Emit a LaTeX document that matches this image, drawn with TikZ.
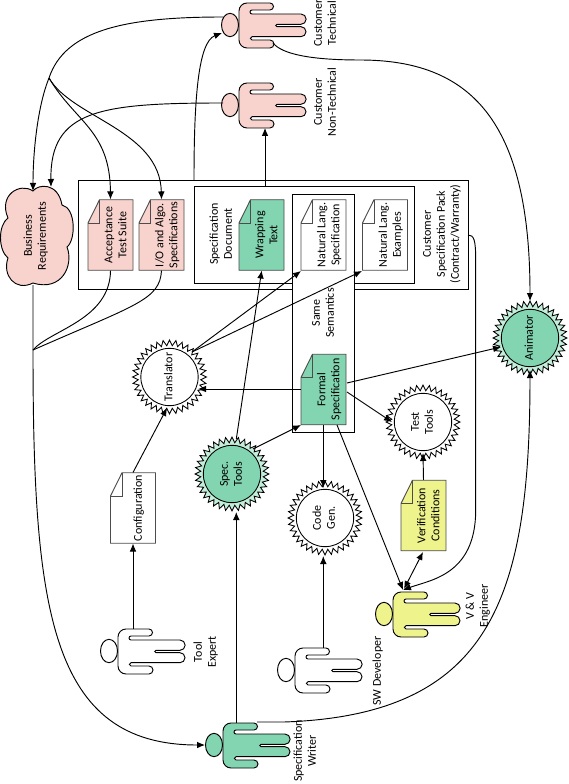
\documentclass[tikz,border=0pt]{standalone}
\usepackage{fontspec}
\setmainfont{Carlito}
\usepackage{graphicx}
\usetikzlibrary{arrows.meta,shapes.geometric,calc}
\definecolor{pinkf}{HTML}{F8D3CE}
\definecolor{greenf}{HTML}{82D5B0}
\definecolor{greenl}{HTML}{C4EEDC}
\definecolor{yellowf}{HTML}{EFF38C}
\newcommand{\rt}[1]{\rotatebox{90}{\begin{tabular}{@{}c@{}}#1\end{tabular}}}
\newcommand{\mydoc}[5]{%
  \begin{scope}[shift={(#2,#3)}]
    \draw[docline,fill=#4] (-11,-35.25)--(22.5,-35.25)--(22.5,35.25)--(-22.5,35.25)--(-22.5,-12)--cycle;
    \draw[docline] (-11,-35.25)--(-11,-12)--(-22.5,-12);
  \end{scope}
  \node[docnode] (#1) at (#2,#3) {\hspace*{9pt}\rt{#5}};}
\newcommand{\mygear}[6]{%
  \node[geardraw,fill=#4] (#1) at (#2,#3) {};
  \node[gearcirc,fill=#5] (#1-c) at (#2,#3) {\rt{#6}};}
\tikzset{
  conn/.style={draw=black,line width=0.7pt},
  arr/.style={conn,-{Latex[length=6pt,width=5pt]}},
  arrb/.style={conn,{Latex[length=6pt,width=5pt]}-{Latex[length=6pt,width=5pt]}},
  docline/.style={draw=black!70,line width=0.7pt},
  docnode/.style={inner sep=0pt,minimum width=33.75pt,minimum height=52.9pt},
  geardraw/.style={draw=black,line width=0.65pt,star,star points=36,star point ratio=1.18,minimum size=55.5pt,inner sep=0pt},
  gearcirc/.style={draw=black,line width=0.65pt,circle,minimum size=43pt,inner sep=0pt},
  boxn/.style={draw=black,line width=0.7pt,fill=white,inner sep=0pt},
  lab/.style={inner sep=0pt},
  pics/person/.style={code={
    \draw[draw=black,line width=0.7pt,fill=#1]
      (9,-14) arc (180:270:8) -- (40,-22) arc (270:450:3.5) -- (22,-15)
      arc (270:90:2) -- (71,-11) arc (270:450:5.15) -- (47,-0.7)
      arc (270:90:1.2) -- (71,1.7) arc (270:450:5) -- (22,11.7)
      arc (270:90:1.65) -- (40,15) arc (270:450:4) -- (17,23)
      arc (90:180:8) -- cycle;
    \node[ellipse,draw=black,line width=0.7pt,fill=#1,minimum width=12.75pt,minimum height=17.5pt,inner sep=0pt] (-head) at (0,0) {};
    \coordinate (-armt) at (24,-22);
    \coordinate (-armb) at (35,23);
  }}
}
\begin{document}
\begin{tikzpicture}[x=0.75pt,y=-0.75pt,font=\fontsize{9}{10.5}\selectfont]
\useasboundingbox (0,0) rectangle (568,784);
% cloud
\draw[conn,fill=pinkf]
  (33,191) .. controls (38,184) and (58,182) .. (62,205)
  .. controls (76,208) and (76,240) .. (67,247)
  .. controls (74,265) and (62,292) .. (33,283)
  .. controls (15,292) and (2,275) .. (8,258)
  .. controls (-2,250) and (-2,225) .. (8,218)
  .. controls (-2,195) and (20,182) .. (33,191) -- cycle;
\node[lab] (br) at (36,236) {\rt{Business\\Requirements}};
\coordinate (brA) at (33,191);
\coordinate (brB) at (51,187);
\coordinate (brC) at (33,285);
% boxes
\node[boxn,minimum width=292.5pt,minimum height=81.75pt] (pack) at (273,234.5) {};
\node[boxn,minimum width=165pt,minimum height=72.75pt] (sd) at (304,234.5) {};
\node[boxn,minimum width=46.5pt,minimum height=178.5pt] (ss) at (323,313) {};
\node[lab] (packl) at (442,234) {\rt{Customer\\Specification Pack\\(Contract/Warranty)}};
\node[lab] (sdl) at (222,234) {\rt{Specification\\Document}};
\node[lab] (ssl) at (324,313) {\rt{Same\\Semantics}};
% documents
\mydoc{acc}{110.5}{235}{pinkf}{Acceptance\\Test Suite}
\mydoc{io}{161.5}{235}{pinkf}{I/O and Algo.\\Specifications}
\mydoc{wrap}{261.5}{235}{greenf}{Wrapping\\Text}
\mydoc{nls}{323.5}{235}{white}{Natural Lang.\\Specification}
\mydoc{nle}{385}{235}{white}{Natural Lang.\\Examples}
\mydoc{formal}{323.5}{389.5}{greenf}{Formal\\Specification}
\mydoc{config}{133}{508}{white}{Configuration}
\mydoc{verif}{423.5}{515.5}{yellowf}{Verification\\Conditions}
% tools
\mygear{anim}{530}{338}{greenl}{greenf}{Animator}
\mygear{trans}{169.5}{377}{white}{white}{Translator}
\mygear{spect}{232}{474}{greenl}{greenf}{Spec.\\Tools}
\mygear{testt}{423}{422}{white}{white}{Test\\Tools}
\mygear{cgen}{325}{518}{white}{white}{Code\\Gen.}
% people
\pic (ct) at (230,25) {person=pinkf};
\pic (nt) at (230,105) {person=pinkf};
\pic (te) at (109,651) {person=white};
\pic (sw) at (286,670) {person=white};
\pic (sp) at (214,745) {person=greenf};
\pic (vv) at (384,614) {person=yellowf};
\node[lab] (ctl) at (326,23) {\rt{Customer\\Technical}};
\node[lab] (ntl) at (326,102) {\rt{Customer\\Non-Technical}};
\node[lab] (tel) at (206,652) {\rt{Tool\\Expert}};
\node[lab] (swl) at (378,671) {\rt{SW Developer}};
\node[lab] (spl) at (306,751) {\rt{Specification\\Writer}};
\node[lab] (vvl) at (478,606) {\rt{V \& V\\Engineer}};
% junctions and free ends
\coordinate (j1) at (49,78);
\coordinate (j2) at (33,350);
\coordinate (ctL) at (223,17);
\coordinate (ctH) at (222,33);
\coordinate (ntL) at (223,103);
\coordinate (ctB) at (273,43);
\coordinate (spH) at (205,745);
\coordinate (spA) at (257,722);
\coordinate (packT) at (194,180);
\coordinate (packR) at (468,235);
\coordinate (vvT) at (403,590);
\coordinate (vvV) at (404,589);
\coordinate (trOut) at (192,352);
\coordinate (nlsC) at (301,271);
\coordinate (nleC) at (362,271);
\coordinate (ssC) at (301,425);
\coordinate (stA) at (236.3,439);
\coordinate (stB) at (253,449);
\coordinate (wrapB) at (261.7,270.5);
\coordinate (fL) at (301,389);
\coordinate (trR) at (198,389);
\coordinate (fR1) at (347,383);
\coordinate (anL) at (501,347);
\coordinate (fR2) at (347,392);
\coordinate (ttL) at (392,422);
\coordinate (fB1) at (323.3,425);
\coordinate (cgT) at (323.3,488);
\coordinate (fB2) at (337,425);
\coordinate (verL) at (423,552);
\coordinate (trB) at (167,408);
\coordinate (ttB) at (423,453);
\coordinate (anT) at (530,301);
\coordinate (anB) at (530,370);
% connectors
\draw[arr] (ctL) .. controls (125,17) and (65,30) .. (j1) .. controls (38,105) and (33,150) .. (brA);
\draw[arr] (j1) .. controls (75,122) and (110,130) .. (acc.north);
\draw[arr] (j1) .. controls (72,118) and (160,130) .. (io.north);
\draw[arr] (ntL) .. controls (100,103) and (50,110) .. (brB);
\draw[arr] (sd.north -| nt-armb) -- (nt-armb);
\draw[arr] (packT) .. controls (194,100) and (198,42) .. (ctH);
\draw[arr] (ctB) .. controls (282,54) and (310,60) .. (360,60) .. controls (470,60) and (530,120) .. (anT);
\draw[arr] (brC) -- (j2) .. controls (33,610) and (50,745) .. (spH);
\draw[conn] (acc.south) .. controls (110,320) and (50,330) .. (j2);
\draw[conn] (io.south) .. controls (160,300) and (135,305) .. (j2);
\draw[arr] (trOut) -- (nlsC);
\draw[arr] (trOut) -- (nleC);
\draw[arr] (stA) -- (wrapB);
\draw[arr] (stB) -- (ssC);
\draw[arr] (fL) -- (trR);
\draw[arr] (fR1) -- (anL);
\draw[arr] (fR2) -- (ttL);
\draw[arr] (fB1) -- (cgT);
\draw[arr] (fB2) -- (vvT);
\draw[arrb] (vvV) -- (verL);
\draw[arr] (verif.north) -- (ttB);
\draw[arr] (packR) .. controls (474,235) and (475.7,240) .. (475.7,260) -- (475.7,510) .. controls (475.7,575) and (430,580) .. (vvT);
\draw[arr] (spA) -- (284,722) .. controls (490,715) and (530,600) .. (anB);
\draw[arr] (sp-armt -| stA) -- (stA |- spect.south);
\draw[arr] (te-armt) -- (config.south);
\draw[arr] (config.north) -- (trB);
\draw[arr] (cgT |- sw-armt) -- (cgT |- cgen.south);
\end{tikzpicture}
\end{document}
